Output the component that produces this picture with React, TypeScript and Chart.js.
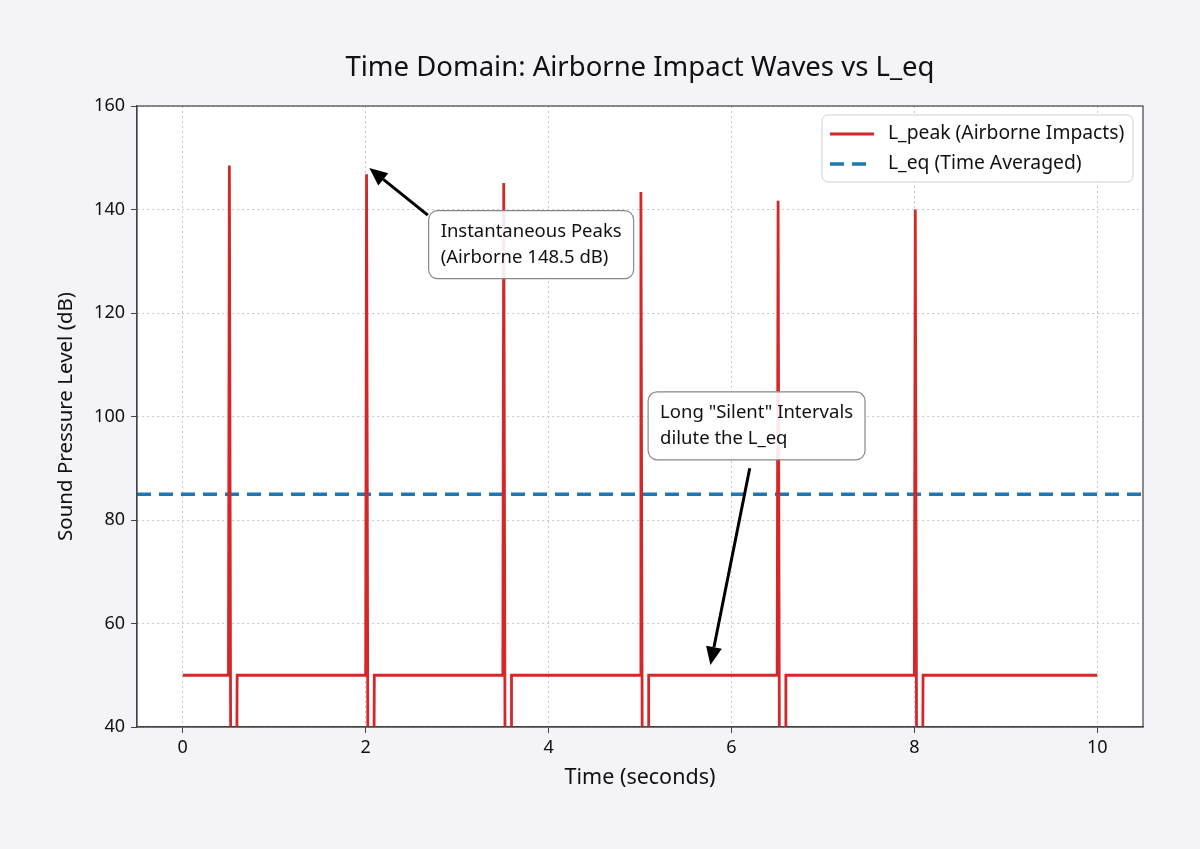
import { useEffect, useRef } from 'react';
import { Chart, registerables } from 'chart.js';

Chart.register(...registerables);

// L_peak trace: vertices of the measured waveform (seconds, dB)
const timeSeconds = [
  0, 0.5, 0.51, 0.525, 0.59, 0.595,
  2.0, 2.01, 2.025, 2.09, 2.095,
  3.5, 3.51, 3.525, 3.59, 3.595,
  5.0, 5.01, 5.025, 5.09, 5.095,
  6.5, 6.51, 6.525, 6.59, 6.595,
  8.0, 8.01, 8.025, 8.09, 8.095,
  10,
];
const lPeakDb = [
  50, 50, 148.5, 30, 30, 50,
  50, 146.8, 30, 30, 50,
  50, 145.1, 30, 30, 50,
  50, 143.4, 30, 30, 50,
  50, 141.7, 30, 30, 50,
  50, 140.0, 30, 30, 50,
  50,
];
const lEqTime = [-0.5, 10.5];
const lEqDb = [85, 85];

const xTicks = [0, 2, 4, 6, 8, 10];
const yTicks = [40, 60, 80, 100, 120, 140, 160];

const FONT = '"Noto Sans", sans-serif';
const RED = '#d62728';
const BLUE = '#1f77b4';

interface Note {
  lines: string[];
  textX: number;
  textY: number;
  tail: [number, number];
  tip: [number, number];
}

const notes: Note[] = [
  {
    lines: ['Instantaneous Peaks', '(Airborne 148.5 dB)'],
    textX: 2.82,
    textY: 133.2,
    tail: [2.68, 138.9],
    tip: [2.04, 148.0],
  },
  {
    lines: ['Long "Silent" Intervals', 'dilute the L_eq'],
    textX: 5.22,
    textY: 98.2,
    tail: [6.2, 90.0],
    tip: [5.77, 52.0],
  },
];

function roundRect(ctx: CanvasRenderingContext2D, x: number, y: number, w: number, h: number, r: number) {
  ctx.beginPath();
  ctx.moveTo(x + r, y);
  ctx.arcTo(x + w, y, x + w, y + h, r);
  ctx.arcTo(x + w, y + h, x, y + h, r);
  ctx.arcTo(x, y + h, x, y, r);
  ctx.arcTo(x, y, x + w, y, r);
  ctx.closePath();
}

const decorPlugin = {
  id: 'decor',
  beforeDraw(chart: Chart) {
    const { ctx, chartArea: a } = chart;
    ctx.save();
    ctx.fillStyle = '#ffffff';
    ctx.fillRect(a.left, a.top, a.right - a.left, a.bottom - a.top);
    ctx.restore();
  },
  afterDraw(chart: Chart) {
    const { ctx, chartArea: a } = chart;
    const xs = chart.scales.x;
    const ys = chart.scales.y;
    ctx.save();

    // spines
    ctx.strokeStyle = '#444';
    ctx.lineWidth = 1.2;
    ctx.strokeRect(a.left, a.top, a.right - a.left, a.bottom - a.top);

    // title
    ctx.fillStyle = '#111';
    ctx.font = `27.5px ${FONT}`;
    ctx.textAlign = 'center';
    ctx.textBaseline = 'middle';
    ctx.fillText('Time Domain: Airborne Impact Waves vs L_eq', (a.left + a.right) / 2, 68);

    // annotations
    ctx.font = `18.5px ${FONT}`;
    for (const n of notes) {
      const tx = xs.getPixelForValue(n.tail[0]);
      const ty = ys.getPixelForValue(n.tail[1]);
      const px = xs.getPixelForValue(n.tip[0]);
      const py = ys.getPixelForValue(n.tip[1]);
      const ang = Math.atan2(py - ty, px - tx);
      const head = 18;
      const bx = px - head * Math.cos(ang);
      const by = py - head * Math.sin(ang);
      ctx.strokeStyle = '#000';
      ctx.lineWidth = 3;
      ctx.beginPath();
      ctx.moveTo(tx, ty);
      ctx.lineTo(bx, by);
      ctx.stroke();
      ctx.fillStyle = '#000';
      ctx.beginPath();
      ctx.moveTo(px, py);
      ctx.lineTo(bx + 8 * Math.sin(ang), by - 8 * Math.cos(ang));
      ctx.lineTo(bx - 8 * Math.sin(ang), by + 8 * Math.cos(ang));
      ctx.closePath();
      ctx.fill();

      const lx = xs.getPixelForValue(n.textX);
      const cy = ys.getPixelForValue(n.textY);
      const lh = 26;
      const w = Math.max(...n.lines.map((l) => ctx.measureText(l).width));
      const h = lh * n.lines.length;
      const pad = 12;
      roundRect(ctx, lx - pad, cy - h / 2 - 8, w + pad * 2, h + 16, 9);
      ctx.fillStyle = 'rgba(255,255,255,0.9)';
      ctx.fill();
      ctx.strokeStyle = '#888';
      ctx.lineWidth = 1.2;
      ctx.stroke();
      ctx.fillStyle = '#111';
      ctx.textAlign = 'left';
      ctx.textBaseline = 'middle';
      n.lines.forEach((l, i) => ctx.fillText(l, lx, cy - h / 2 + lh * (i + 0.5)));
    }

    // legend
    const lgX = 822;
    const lgY = 115;
    roundRect(ctx, lgX, lgY, 311, 67, 6);
    ctx.fillStyle = 'rgba(255,255,255,0.9)';
    ctx.fill();
    ctx.strokeStyle = '#d0d0d0';
    ctx.lineWidth = 1;
    ctx.stroke();
    const items = [
      { label: 'L_peak (Airborne Impacts)', color: RED, dash: [] as number[], width: 2.8 },
      { label: 'L_eq (Time Averaged)', color: BLUE, dash: [14, 8], width: 3.5 },
    ];
    items.forEach((it, i) => {
      const y = lgY + 19 + i * 30;
      ctx.strokeStyle = it.color;
      ctx.lineWidth = it.width;
      ctx.setLineDash(it.dash);
      ctx.beginPath();
      ctx.moveTo(lgX + 8, y);
      ctx.lineTo(lgX + 52, y);
      ctx.stroke();
      ctx.setLineDash([]);
      ctx.fillStyle = '#111';
      ctx.font = `19.3px ${FONT}`;
      ctx.textAlign = 'left';
      ctx.textBaseline = 'middle';
      ctx.fillText(it.label, lgX + 66, y);
    });
    ctx.restore();
  },
};

export default function App() {
  const canvasRef = useRef<HTMLCanvasElement>(null);

  useEffect(() => {
    document.body.style.margin = '0';
    if (!canvasRef.current) return;
    const chart = new Chart(canvasRef.current, {
      type: 'line',
      data: {
        datasets: [
          {
            label: 'L_peak (Airborne Impacts)',
            data: timeSeconds.map((t, i) => ({ x: t, y: lPeakDb[i] })),
            borderColor: RED,
            borderWidth: 2.8,
            pointRadius: 0,
            tension: 0,
          },
          {
            label: 'L_eq (Time Averaged)',
            data: lEqTime.map((t, i) => ({ x: t, y: lEqDb[i] })),
            borderColor: BLUE,
            borderWidth: 3.5,
            borderDash: [14, 8],
            pointRadius: 0,
          },
        ],
      },
      options: {
        responsive: true,
        maintainAspectRatio: false,
        animation: false,
        layout: { padding: { top: 106, right: 57, left: 0, bottom: 0 } },
        plugins: {
          legend: { display: false },
          tooltip: { enabled: false },
          title: { display: false },
        },
        scales: {
          x: {
            type: 'linear',
            min: -0.5,
            max: 10.5,
            afterBuildTicks: (s) => {
              s.ticks = xTicks.map((v) => ({ value: v }));
            },
            afterFit: (s) => {
              s.height = 122;
            },
            grid: {
              color: '#c8c8c8',
              lineWidth: 1,
              tickColor: '#444',
              tickLength: 6,
              tickBorderDash: [],
            },
            border: { color: '#444', width: 1.2, dash: [2, 3] },
            ticks: { color: '#111', font: { family: FONT, size: 18 }, padding: 4, maxRotation: 0 },
            title: {
              display: true,
              text: 'Time (seconds)',
              color: '#111',
              font: { family: FONT, size: 21.5 },
              padding: { top: 0, bottom: 58 },
            },
          },
          y: {
            min: 40,
            max: 160,
            afterBuildTicks: (s) => {
              s.ticks = yTicks.map((v) => ({ value: v }));
            },
            afterFit: (s) => {
              s.width = 137;
            },
            grid: {
              color: '#c8c8c8',
              lineWidth: 1,
              tickColor: '#444',
              tickLength: 6,
              tickBorderDash: [],
            },
            border: { color: '#444', width: 1.2, dash: [2, 3] },
            ticks: { color: '#111', font: { family: FONT, size: 18 }, padding: 6 },
            title: {
              display: true,
              text: 'Sound Pressure Level (dB)',
              color: '#111',
              font: { family: FONT, size: 20.5 },
              padding: { top: 54, bottom: 0 },
            },
          },
        },
      },
      plugins: [decorPlugin],
    });
    return () => chart.destroy();
  }, []);

  return (
    <div style={{ width: 1200, height: 849, background: '#f3f3f8', position: 'relative' }}>
      <canvas ref={canvasRef}></canvas>
    </div>
  );
}
